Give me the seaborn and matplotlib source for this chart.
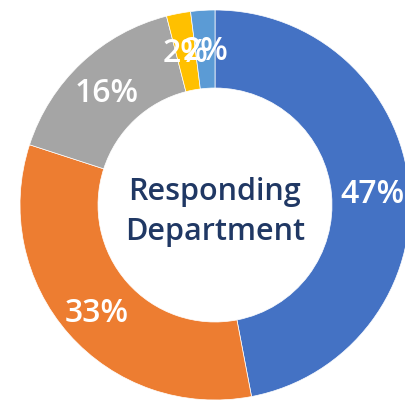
import matplotlib
matplotlib.use("Agg")
import matplotlib.pyplot as plt
import numpy as np
import seaborn as sns

# data
departments = ["Dept A", "Dept B", "Dept C", "Dept D", "Dept E"]
shares      = [47, 33, 16, 2, 2]
labels      = ["47%", "33%", "16%", "2%", "2%"]
center_text = "Responding\nDepartment"

colors = sns.color_palette(["#4472C4", "#ED7D31", "#A5A5A5", "#FFC000", "#5B9BD5"])

sns.set_theme(style="white")
plt.rcParams["font.family"] = ["Open Sans", "DejaVu Sans"]

fig = plt.figure(figsize=(4.06, 4.03), dpi=100)
ax = fig.add_axes([20 / 406, 3 / 403, 390 / 406, 390 / 403])

wedges, _ = ax.pie(
    shares, colors=colors, startangle=90, counterclock=False,
    radius=1.0, wedgeprops=dict(width=0.4, edgecolor="white", linewidth=0.5),
)

# percent labels in middle of ring (nudged down a touch)
cum = np.cumsum([0] + shares[:-1])
for lab, start, val in zip(labels, cum, shares):
    ang = np.deg2rad(90 - (start + val / 2) / 100 * 360)
    r = 0.81
    ax.text(r * np.cos(ang), r * np.sin(ang) - 0.02, lab, ha="center", va="center",
            color="white", fontsize=23, fontweight="semibold")

ax.text(0, -0.035, center_text, ha="center", va="center", color="#203864",
        fontsize=22, fontweight="semibold", linespacing=1.45)

ax.set_xlim(-1, 1)
ax.set_ylim(-1, 1)
ax.set_aspect("equal")
ax.axis("off")

fig.savefig("out.png", dpi=100)
